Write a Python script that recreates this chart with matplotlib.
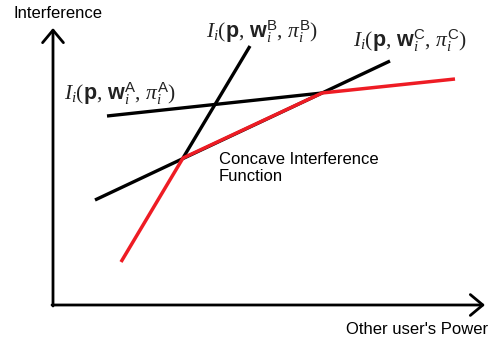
import numpy as np
import matplotlib
matplotlib.use('Agg')
import matplotlib.pyplot as plt

plt.rcParams['font.family'] = 'Liberation Sans'
plt.rcParams['mathtext.fontset'] = 'custom'
plt.rcParams['mathtext.rm'] = 'Liberation Serif'
plt.rcParams['mathtext.it'] = 'Liberation Serif:italic'
plt.rcParams['mathtext.bf'] = 'Liberation Sans:bold'
plt.rcParams['mathtext.sf'] = 'Liberation Sans'

# schematic values (x = other user's power, y = interference)
line_a_x = [54, 269]
line_a_y = [189, 212]
line_b_x = [130, 197]
line_b_y = [147, 259]
line_c_x = [42, 337]
line_c_y = [105, 244]
concave_x = [68, 130, 269, 402]
concave_y = [43, 147, 212, 226]

x_max = 432
y_max = 277

label_a = r'$I_i(\mathbf{p},\,\mathbf{w}_i^{\mathsf{A}},\,\pi_i^{\mathsf{A}})$'
label_b = r'$I_i(\mathbf{p},\,\mathbf{w}_i^{\mathsf{B}},\,\pi_i^{\mathsf{B}})$'
label_c = r'$I_i(\mathbf{p},\,\mathbf{w}_i^{\mathsf{C}},\,\pi_i^{\mathsf{C}})$'

fig = plt.figure(figsize=(4.9, 3.41), dpi=100)
ax = fig.add_axes([0, 0, 1, 1])
ax.set_xlim(-53, 437)
ax.set_ylim(-36, 305)
ax.axis('off')

# axes with open arrow heads
arrow = dict(arrowstyle='->,head_length=0.9,head_width=0.75', color='black', lw=2, shrinkA=0, shrinkB=0)
ax.annotate('', xy=(x_max, 0), xytext=(-1, 0), arrowprops=arrow)
ax.annotate('', xy=(0, y_max), xytext=(0, -1), arrowprops=arrow)

ax.plot(line_a_x, line_a_y, color='black', lw=2.4, solid_capstyle='butt')
ax.plot(line_b_x, line_b_y, color='black', lw=2.4, solid_capstyle='butt')
ax.plot(line_c_x, line_c_y, color='black', lw=2.4, solid_capstyle='butt')
ax.plot(concave_x, concave_y, color='#ee1c24', lw=2.5, solid_capstyle='butt')

ax.text(67, 211, label_a, fontsize=15.5, ha='center', va='center', color='#222222')
ax.text(209, 273, label_b, fontsize=15.5, ha='center', va='center', color='#222222')
ax.text(357, 264, label_c, fontsize=15.5, ha='center', va='center', color='#222222')

ax.text(5, 292, 'Interference', fontsize=12, ha='center', va='center')
ax.text(364, -25, "Other user's Power", fontsize=12, ha='center', va='center')
ax.text(166, 137, 'Concave Interference\nFunction', fontsize=12, ha='left', va='center', linespacing=1.15)

fig.savefig('out.png', dpi=100)
